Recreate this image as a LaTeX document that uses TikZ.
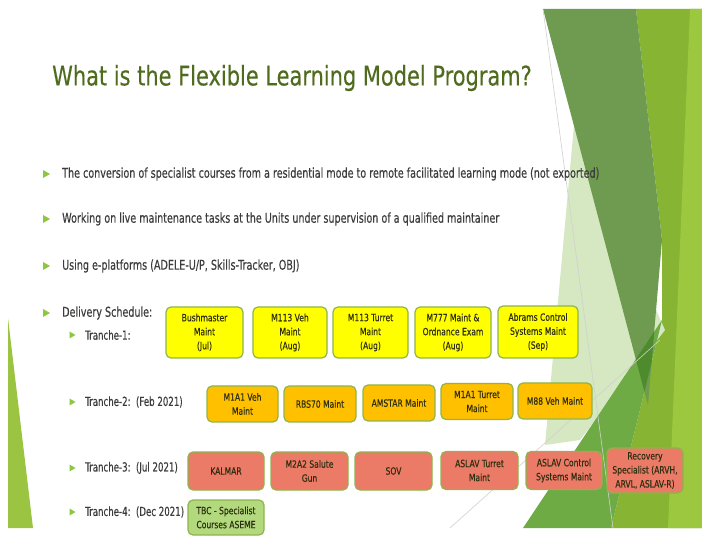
\documentclass[tikz,border=0pt]{standalone}
\usepackage{fontspec}
\newfontfamily\titlefont[FakeStretch=0.775,FakeBold=0.25]{DejaVu Sans}
\newfontfamily\bodyfont[FakeStretch=0.71,FakeBold=0.3]{DejaVu Sans}
\newfontfamily\subfont[FakeStretch=0.69,FakeBold=0.3]{DejaVu Sans}
\newfontfamily\boxfont[FakeStretch=0.76,FakeBold=0.3]{DejaVu Sans}
\definecolor{titlegreen}{HTML}{4F6B1E}
\definecolor{bodygrey}{HTML}{3C3C3C}
\definecolor{bulgreen}{HTML}{8DC63F}
\definecolor{boxborder}{HTML}{8EB44B}
\definecolor{boxtext}{HTML}{2E2E10}
\definecolor{yel}{HTML}{FFFF00}
\definecolor{ora}{HTML}{FFC000}
\definecolor{sal}{HTML}{EB7A67}
\definecolor{lgr}{HTML}{B2D97E}
\definecolor{dgreen}{HTML}{6F9B51}
\definecolor{ygreen}{HTML}{87B433}
\definecolor{lygreen}{HTML}{9BC83F}
\definecolor{mgreen}{HTML}{6EAB45}
\definecolor{ovgreen}{HTML}{4E8B2C}
\definecolor{palegreen}{HTML}{D5E8C1}
\definecolor{ltri}{HTML}{9CC443}
\definecolor{thinline}{HTML}{D0D0D0}
\begin{document}
\begin{tikzpicture}[x=1pt,y=-1pt,
  txt/.style={anchor=west, inner sep=0pt, font=\subfont\fontsize{12.5}{15}\selectfont, text=bodygrey},
  txtmain/.style={txt, font=\bodyfont\fontsize{13.5}{16}\selectfont},
  bx/.style={draw=boxborder, line width=1.2pt, rounded corners=5pt, inner sep=0pt, align=center,
    font=\boxfont\fontsize{10}{14}\selectfont, text=boxtext},
  yb/.style={bx, fill=yel, minimum height=51pt},
  ob/.style={bx, fill=ora, minimum height=36pt},
  sb/.style={bx, fill=sal, minimum height=38pt},
  gb/.style={bx, fill=lgr, minimum height=35pt},
  mainbul/.style={fill=bulgreen},
  subbul/.style={fill=bulgreen},
  hairline/.style={draw=thinline, line width=0.6pt}
]
\useasboundingbox (0,0) rectangle (702,537);
\fill[white] (0,0) rectangle (702,537);

% decorative background shapes
\fill[ygreen] (636,9) -- (702,9) -- (702,528) -- (611,528) -- (662,320) -- (662,240) -- cycle;
\fill[lygreen] (690,9) -- (702,9) -- (702,528) -- (668,528) -- cycle;
\fill[palegreen] (574,125) -- (665,330) -- (580,440) -- (545,445) -- cycle;
\fill[mgreen] (523,528) -- (662,320) -- (611,528) -- cycle;
\fill[dgreen] (543,9) -- (636,9) -- (662,240) -- (648,405) -- cycle;
\begin{scope}
  \clip (523,528) -- (662,320) -- (611,528) -- cycle;
  \fill[ovgreen] (543,9) -- (636,9) -- (662,240) -- (648,405) -- cycle;
\end{scope}
\draw[hairline] (543,9) -- (613,528);
\draw[hairline] (450,528) -- (660,340);
\fill[ltri] (8,318) -- (8,528) -- (33,528) -- cycle;

% title
\node[anchor=west, inner sep=0pt, text=titlegreen, font=\titlefont\fontsize{27}{32}\selectfont] (title) at (52,78) {What is the Flexible Learning Model Program?};

% bullets
\fill[mainbul, shift={(46,174)}] (-3,-4) -- (4,0) -- (-3,4) -- cycle;
\fill[mainbul, shift={(46,219)}] (-3,-4) -- (4,0) -- (-3,4) -- cycle;
\fill[mainbul, shift={(46,266)}] (-3,-4) -- (4,0) -- (-3,4) -- cycle;
\fill[mainbul, shift={(46,313)}] (-3,-4) -- (4,0) -- (-3,4) -- cycle;
\fill[subbul, shift={(72,335)}] (-2.5,-3.5) -- (3.5,0) -- (-2.5,3.5) -- cycle;
\fill[subbul, shift={(72,402)}] (-2.5,-3.5) -- (3.5,0) -- (-2.5,3.5) -- cycle;
\fill[subbul, shift={(72,468)}] (-2.5,-3.5) -- (3.5,0) -- (-2.5,3.5) -- cycle;
\fill[subbul, shift={(72,512)}] (-2.5,-3.5) -- (3.5,0) -- (-2.5,3.5) -- cycle;

\node[txtmain] (t1) at (62,174) {The conversion of specialist courses from a residential mode to remote facilitated learning mode (not exported)};
\node[txtmain] (t2) at (62,219) {Working on live maintenance tasks at the Units under supervision of a qualified maintainer};
\node[txtmain] (t3) at (62,266) {Using e-platforms (ADELE-U/P, Skills-Tracker, OBJ)};
\node[txtmain] (t4) at (62,313) {Delivery Schedule:};
\node[txt] (s1) at (85,335) {Tranche-1:};
\node[txt] (s2) at (85,402) {Tranche-2:\ \ (Feb 2021)};
\node[txt] (s3) at (85,468) {Tranche-3:\ \ (Jul 2021)};
\node[txt] (s4) at (85,512) {Tranche-4:\ \ (Dec 2021)};

% tranche 1
\node[yb, minimum width=77pt] (b11) at (204.5,332.5) {Bushmaster\\Maint\\(Jul)};
\node[yb, minimum width=74pt] (b12) at (290,332.5) {M113 Veh\\Maint\\(Aug)};
\node[yb, minimum width=75pt] (b13) at (370.5,332.5) {M113 Turret\\Maint\\(Aug)};
\node[yb, minimum width=76pt] (b14) at (453,332.5) {M777 Maint \&\\Ordnance Exam\\(Aug)};
\node[yb, minimum width=80pt, minimum height=52pt] (b15) at (538,332) {Abrams Control\\Systems Maint\\(Sep)};
% tranche 2
\node[ob, minimum width=71pt] (b21) at (242.5,404) {M1A1 Veh\\Maint};
\node[ob, minimum width=72pt] (b22) at (320,404) {RBS70 Maint};
\node[ob, minimum width=72pt] (b23) at (399,403) {AMSTAR Maint};
\node[ob, minimum width=72pt] (b24) at (477,401.5) {M1A1 Turret\\Maint};
\node[ob, minimum width=74pt] (b25) at (555,401) {M88 Veh Maint};
% tranche 3
\node[sb, minimum width=76pt] (b31) at (226,471) {KALMAR};
\node[sb, minimum width=77pt] (b32) at (309.5,471) {M2A2 Salute\\Gun};
\node[sb, minimum width=77pt] (b33) at (393.5,471) {SOV};
\node[sb, minimum width=77pt] (b34) at (479.5,470.5) {ASLAV Turret\\Maint};
\node[sb, minimum width=76pt] (b35) at (564,470.5) {ASLAV Control\\Systems Maint};
\node[sb, minimum width=76pt, minimum height=45pt] (b36) at (645,470.5) {Recovery\\Specialist (ARVH,\\ARVL, ASLAV-R)};
% tranche 4
\node[gb, minimum width=76pt] (b41) at (226,517.5) {TBC - Specialist\\Courses ASEME};
\end{tikzpicture}
\end{document}
